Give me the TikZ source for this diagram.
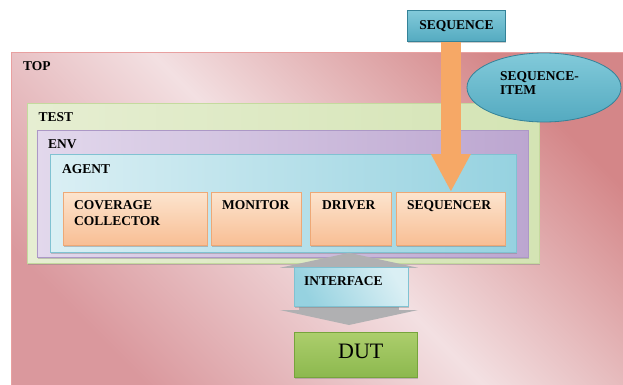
\documentclass[tikz,border=0pt]{standalone}
\usepackage{fontspec}
\setmainfont{Liberation Serif}
\usetikzlibrary{arrows.meta,shadows,shapes.geometric}
\definecolor{topdark}{RGB}{212,134,136}
\definecolor{topmid}{RGB}{218,152,157}
\definecolor{toplight}{RGB}{243,224,226}
\definecolor{topline}{RGB}{232,160,160}
\definecolor{testleft}{RGB}{230,238,210}
\definecolor{testright}{RGB}{212,228,180}
\definecolor{testline}{RGB}{196,218,158}
\definecolor{envleft}{RGB}{226,216,236}
\definecolor{envright}{RGB}{188,166,208}
\definecolor{envline}{RGB}{172,152,198}
\definecolor{agleft}{RGB}{218,239,244}
\definecolor{agright}{RGB}{150,210,224}
\definecolor{agline}{RGB}{128,194,210}
\definecolor{peachlight}{RGB}{252,228,206}
\definecolor{peachdark}{RGB}{248,190,148}
\definecolor{peachline}{RGB}{238,168,118}
\definecolor{tealtop}{RGB}{130,202,218}
\definecolor{tealbot}{RGB}{84,170,192}
\definecolor{tealline}{RGB}{52,130,152}
\definecolor{orangearr}{RGB}{246,168,102}
\definecolor{grayarr}{RGB}{176,176,178}
\definecolor{dutlight}{RGB}{172,206,108}
\definecolor{dutdark}{RGB}{140,184,78}
\definecolor{dutline}{RGB}{118,164,60}
\tikzset{
  frame/.style={anchor=north west, inner sep=0pt, line width=0.8pt},
  lbl/.style={anchor=base west, inner sep=0pt, font=\fontsize{13.5}{16}\selectfont\bfseries, align=left},
  compbox/.style={frame, top color=peachlight, bottom color=peachdark, draw=peachline,
    minimum height=53pt, drop shadow={shadow xshift=0.8pt, shadow yshift=-1.6pt, opacity=0.45}},
  shadowed/.style={drop shadow={shadow xshift=0.8pt, shadow yshift=-1.6pt, opacity=0.4}}
}
\begin{document}
\begin{tikzpicture}[x=1pt,y=-1pt]
\useasboundingbox (0,0) rectangle (623,385);
\node[frame, draw=topline, left color=topmid, right color=topdark, middle color=toplight, shading angle=135,
  minimum width=620pt, minimum height=340pt] (top) at (11,52) {};
\node[lbl] (toplbl) at (23,70.6) {TOP};
\node[frame, shadowed, draw=testline, left color=testleft, right color=testright, minimum width=512pt, minimum height=160pt] (test) at (27,103) {};
\node[lbl] (testlbl) at (38.5,121.6) {TEST};
\node[frame, shadowed, draw=envline, left color=envleft, right color=envright, minimum width=491.5pt, minimum height=127pt] (env) at (36.5,130) {};
\node[lbl] (envlbl) at (48,148.6) {ENV};
\node[frame, shadowed, draw=agline, left color=agleft, right color=agright, minimum width=466pt, minimum height=98pt] (agent) at (50,154) {};
\node[lbl] (agentlbl) at (62,173.6) {AGENT};
\node[compbox, minimum width=144pt] (cov) at (63,192) {};
\node[lbl] (covlbl) at (74,225.6) {COVERAGE\\COLLECTOR};
\node[compbox, minimum width=90pt] (mon) at (211,192) {};
\node[lbl] (monlbl) at (222,209.6) {MONITOR};
\node[compbox, minimum width=81pt] (drv) at (310,192) {};
\node[lbl] (drvlbl) at (322,209.6) {DRIVER};
\node[compbox, minimum width=109pt] (sqr) at (396,192) {};
\node[lbl] (sqrlbl) at (407,209.6) {SEQUENCER};
\node[frame, shadowed, draw=tealline, top color=tealtop, bottom color=tealbot, minimum width=98pt, minimum height=31pt,
  font=\fontsize{13.5}{16}\selectfont\bfseries] (seqn) at (407,10) {SEQUENCE};
\node[ellipse, draw=tealline, line width=0.8pt, top color=tealtop, bottom color=tealbot, minimum width=154pt, minimum height=69pt] (item) at (544,87.5) {};
\node[lbl, font=\fontsize{13.5}{14}\selectfont\bfseries] (itemlbl) at (500,94.6) {SEQUENCE-\\ITEM};
\draw[orangearr, line width=20pt, -{Triangle[width=37pt, length=38pt]}] (sqr.north |- seqn.south) -- (sqr.north);
\node[frame, shadowed, draw=dutline, top color=dutlight, bottom color=dutdark, minimum width=123pt, minimum height=45pt] (dut) at (294,332) {};
\node[anchor=base west, inner sep=0pt, font=\fontsize{22}{24}\selectfont] (dutlbl) at (338,358.5) {DUT};
\coordinate (ifmid) at (349,286);
\draw[grayarr, line width=100pt, {Triangle[width=138pt, length=15pt]}-{Triangle[width=138pt, length=15pt]}, shorten >=7pt]
  (agent.south -| ifmid) -- (dut.north -| ifmid);
\node[frame, shadowed, draw=agline, left color=agright, right color=agleft, shading angle=120, minimum width=114pt, minimum height=39pt] (ifc) at (294,267) {};
\node[lbl] (ifclbl) at (304,285.6) {INTERFACE};
\end{tikzpicture}
\end{document}
